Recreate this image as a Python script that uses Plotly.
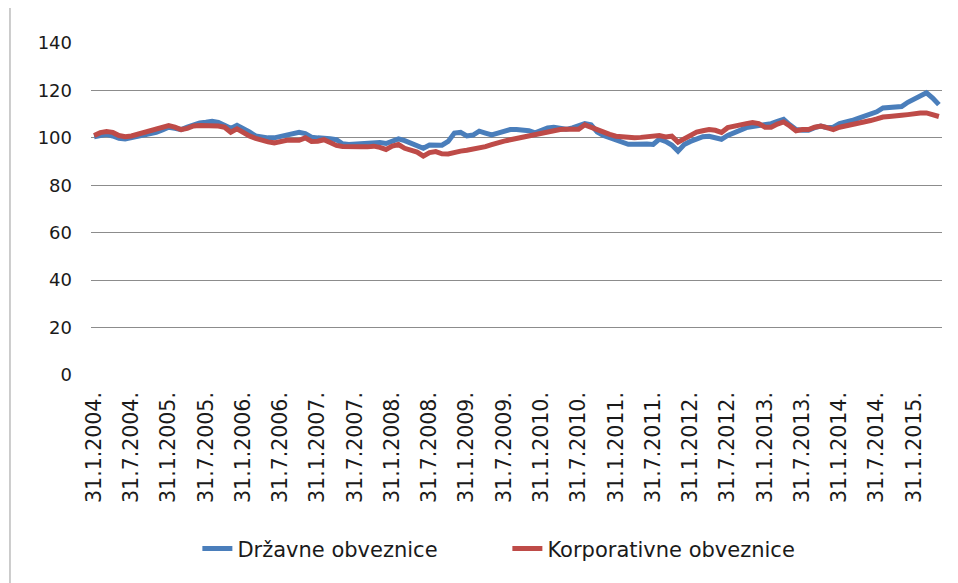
import pandas as pd
import plotly.graph_objects as go

# Monthly index values, Jan 2004 - May 2015 (137 months)
drzavne = [
    100.5, 101.0, 101.5, 100.8, 99.8, 99.5, 100.0, 100.7, 101.2, 101.8, 102.3, 103.3,
    104.5, 104.0, 103.5, 104.5, 105.5, 106.3, 106.6, 107.0, 106.5, 105.5, 104.0, 105.3,
    104.0, 102.5, 100.8, 100.2, 100.0, 100.0, 100.5, 101.4, 102.0, 102.3, 101.8, 100.3,
    100.0, 100.0, 99.6, 99.2, 97.5, 97.2, 97.4, 97.6, 97.9, 98.2, 98.0, 97.6,
    98.5, 99.6, 98.8, 97.8, 96.5, 95.6, 97.0, 97.2, 96.9, 98.5, 102.0, 102.3,
    100.8, 101.2, 102.8, 102.0, 101.2, 102.0, 103.0, 103.5, 103.5, 103.5, 103.0, 102.1,
    103.0, 104.2, 104.5, 104.0, 103.6, 104.2, 105.0, 106.0, 105.5, 102.5, 101.0, 100.0,
    99.0, 98.0, 97.3, 97.3, 97.6, 97.4, 97.2, 99.5, 98.5, 97.0, 94.4, 97.2,
    98.5, 99.7, 100.5, 100.7, 100.3, 99.4, 101.0, 102.2, 103.3, 104.3, 104.8, 105.2,
    105.5, 106.0, 107.0, 107.8, 105.5, 103.5, 103.2, 103.2, 104.3, 105.0, 104.3, 104.5,
    106.0, 106.5, 107.3, 108.2, 109.0, 109.8, 111.0, 112.6, 112.9, 112.9, 113.2, 115.0,
    116.5, 118.0, 119.0, 116.8, 114.0,
]
korporativne = [
    101.0, 102.2, 102.7, 102.3, 101.0, 100.5, 100.8, 101.5, 102.2, 102.8, 103.4, 104.0,
    105.2, 104.5, 103.5, 104.0, 105.0, 105.2, 105.2, 105.2, 105.0, 104.5, 102.4, 103.8,
    102.0, 100.8, 99.8, 98.8, 98.3, 97.9, 98.5, 99.0, 99.0, 99.0, 100.0, 98.5,
    98.6, 99.2, 98.0, 96.8, 96.4, 96.2, 96.5, 96.2, 96.2, 96.5, 96.0, 95.1,
    96.5, 97.2, 95.6, 94.8, 94.0, 92.3, 93.8, 94.2, 93.3, 93.2, 94.0, 94.4,
    94.8, 95.2, 95.7, 96.3, 97.1, 97.6, 98.6, 99.2, 99.8, 100.1, 100.5, 101.5,
    102.1, 102.8, 103.2, 103.5, 103.6, 103.5, 103.6, 105.5, 104.5, 103.0, 102.3, 101.5,
    100.7, 100.4, 100.2, 100.0, 100.2, 100.5, 100.4, 101.0, 100.4, 100.7, 98.2, 99.5,
    100.8, 102.4, 103.0, 103.5, 103.2, 102.3, 104.3, 105.0, 105.5, 106.0, 106.5, 106.0,
    104.5, 104.5, 105.8, 106.7, 105.0, 103.0, 103.5, 103.5, 104.5, 105.0, 104.3, 103.5,
    104.5, 105.0, 105.3, 106.0, 106.5, 107.3, 108.0, 108.8, 109.0, 109.0, 109.5, 109.8,
    110.3, 110.5, 110.5, 109.8, 109.0,
]

month_ends = pd.date_range("2004-01-31", periods=len(drzavne), freq="ME")
categories = [f"{d.day}.{d.month}.{d.year}." for d in month_ends]
tick_labels = categories[::6]

series_names = ["Državne obveznice", "Korporativne obveznice"]
colors = ["#4A7EBB", "#BE4B48"]

fig = go.Figure()
for name, vals, col in zip(series_names, [drzavne, korporativne], colors):
    fig.add_trace(go.Scatter(
        x=categories, y=vals, mode="lines", name=name,
        line=dict(color=col, width=5),
    ))

font_family = "'DejaVu Sans', sans-serif"
fig.update_layout(
    width=950, height=575,
    margin=dict(l=83, r=16, t=35, b=208),
    paper_bgcolor="white", plot_bgcolor="white",
    font=dict(family=font_family, color="#1a1a1a"),
    showlegend=True,
    legend=dict(orientation="h", x=0.125, xanchor="left", y=-0.524, yanchor="middle",
                font=dict(size=21, family=font_family),
                entrywidth=265, entrywidthmode="pixels", tracegroupgap=0),
    xaxis=dict(
        type="category", range=[-0.5, len(categories) - 0.5],
        tickmode="array", tickvals=tick_labels, ticktext=tick_labels,
        tickangle=-90, tickfont=dict(size=20.5), showgrid=False,
        showline=False, zeroline=False, ticks="", ticklabelstandoff=12,
    ),
    yaxis=dict(
        range=[0, 140], tickvals=[0, 20, 40, 60, 80, 100, 120, 140],
        showgrid=True, gridcolor="#8C8C8C", gridwidth=1, zeroline=False,
        showline=False, ticks="", tickfont=dict(size=18), ticklabelstandoff=18,
    ),
    shapes=[dict(type="line", xref="paper", yref="paper",
                 x0=-0.0952, x1=-0.0952, y0=-0.63, y1=1.14,
                 line=dict(color="#9A9A9A", width=1))],
)

fig.write_html("out.html")
